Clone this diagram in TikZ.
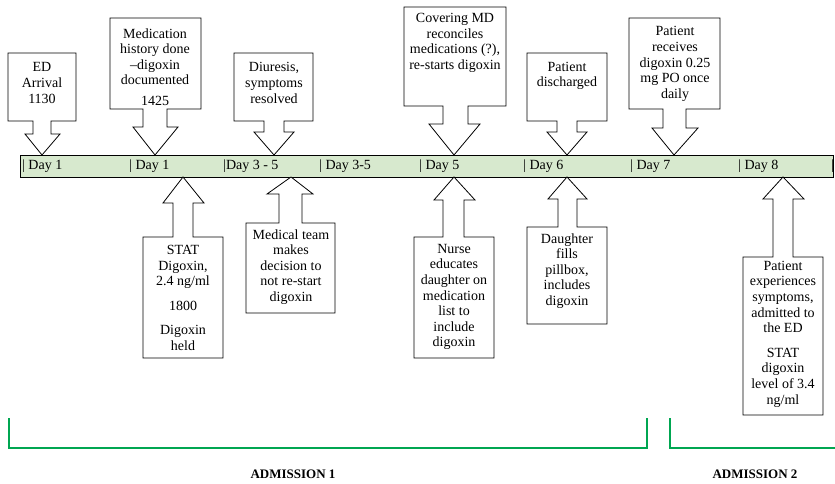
\documentclass[tikz,border=0pt]{standalone}
\usepackage{fontspec}
\setmainfont{Liberation Serif}
\definecolor{barfill}{RGB}{215,233,206}
\definecolor{brgreen}{RGB}{0,166,81}
\tikzset{
  callout/.style={draw=black, fill=white, line width=0.8pt, line join=miter},
  txt/.style={align=center, inner sep=0pt, font=\fontsize{14}{15.6}\selectfont},
  daylbl/.style={anchor=west, inner sep=0pt, font=\fontsize{14}{16}\selectfont},
  bracket/.style={draw=brgreen, line width=1.6pt},
  admlbl/.style={inner sep=0pt, font=\fontsize{13}{15}\selectfont\bfseries}
}
\begin{document}
\begin{tikzpicture}[x=1pt,y=-1pt]
\useasboundingbox (0,0) rectangle (835,484);
% timeline bar
\path[draw=black, fill=barfill, line width=0.7pt] (20,155) rectangle (833,177);
\node[daylbl] (d1) at (22,166) {| Day 1};
\node[daylbl] (d2) at (129,166) {| Day 1};
\node[daylbl] (d3) at (223,166) {|Day 3 - 5};
\node[daylbl] (d4) at (319,166) {| Day 3-5};
\node[daylbl] (d5) at (419,166) {| Day 5};
\node[daylbl] (d6) at (523,166) {| Day 6};
\node[daylbl] (d7) at (630,166) {| Day 7};
\node[daylbl] (d8) at (738,166) {| Day 8};
\node[daylbl] (d9) at (831,166) {|};
% ---- top callouts ----
\path[callout] (8,53) -- (76,53) -- (76,121) -- (51,121) -- (51,134) -- (60,134) -- (42,155) -- (25,134) -- (33,134) -- (33,121) -- (8,121) -- cycle;
\node[txt] (ed) at (42,83) {ED\\Arrival\\1130};

\path[callout] (110,18) -- (201,18) -- (201,109) -- (167,109) -- (167,127) -- (178,127) -- (155,155) -- (133,127) -- (143,127) -- (143,109) -- (110,109) -- cycle;
\node[txt] (medhist) at (155,67) {Medication\\history done\\–digoxin\\documented\\[5pt]1425};

\path[callout] (234,53) -- (313,53) -- (313,121) -- (284,121) -- (284,132) -- (294,132) -- (274,155) -- (254,132) -- (264,132) -- (264,121) -- (234,121) -- cycle;
\node[txt] (diur) at (274,83) {Diuresis,\\symptoms\\resolved};

\path[callout] (404,7) -- (506,7) -- (506,106) -- (468,106) -- (468,124) -- (480,124) -- (454,155) -- (429,124) -- (443,124) -- (443,106) -- (404,106) -- cycle;
\node[txt] (cover) at (455,43) {Covering MD\\reconciles\\medications (?),\\re-starts digoxin};

\path[callout] (527,53) -- (607,53) -- (607,121) -- (577,121) -- (577,132) -- (587,132) -- (567,155) -- (547,132) -- (557,132) -- (557,121) -- (527,121) -- cycle;
\node[txt] (disch) at (567,76) {Patient\\discharged};

\path[callout] (629,18) -- (720,18) -- (720,109) -- (686,109) -- (686,128) -- (698,128) -- (674,155) -- (652,128) -- (663,128) -- (663,109) -- (629,109) -- cycle;
\node[txt] (recv) at (675,64) {Patient\\receives\\digoxin 0.25\\mg PO once\\daily};
% ---- bottom callouts ----
\path[callout] (143,358) -- (223,358) -- (223,237) -- (193,237) -- (193,203) -- (204,203) -- (183,177) -- (163,203) -- (173,203) -- (173,237) -- (143,237) -- cycle;
\node[txt] (stat) at (183,298) {STAT\\Digoxin,\\2.4 ng/ml\\[9pt]1800\\[9pt]Digoxin\\held};

\path[callout] (246,313) -- (335,313) -- (335,223) -- (302,223) -- (302,194) -- (313,194) -- (291,177) -- (267,194) -- (279,194) -- (279,223) -- (246,223) -- cycle;
\node[txt] (medteam) at (291,267) {Medical team\\makes\\decision to\\not re-start\\digoxin};

\path[callout] (414,358) -- (494,358) -- (494,237) -- (464,237) -- (464,200) -- (475,200) -- (454,177) -- (434,200) -- (443,200) -- (443,237) -- (414,237) -- cycle;
\node[txt] (nurse) at (454,297) {Nurse\\educates\\daughter on\\medication\\list to\\include\\digoxin};

\path[callout] (527,324) -- (607,324) -- (607,227) -- (577,227) -- (577,199) -- (587,199) -- (567,177) -- (548,199) -- (558,199) -- (558,227) -- (527,227) -- cycle;
\node[txt] (daught) at (567,271) {Daughter\\fills\\pillbox,\\includes\\digoxin};

\path[callout] (743,415) -- (823,415) -- (823,257) -- (793,257) -- (793,199) -- (804,199) -- (783,177) -- (763,199) -- (773,199) -- (773,257) -- (743,257) -- cycle;
\node[txt] (exper) at (783,334) {Patient\\experiences\\symptoms,\\admitted to\\the ED\\[9pt]STAT\\digoxin\\level of 3.4\\ng/ml};
% ---- admission brackets ----
\draw[bracket] (9,418) -- (9,448) -- (647,448) -- (647,418);
\draw[bracket] (670,418) -- (670,448) -- (835,448);
\node[admlbl] (adm1) at (293,474) {ADMISSION 1};
\node[admlbl] (adm2) at (755,474) {ADMISSION 2};
\end{tikzpicture}
\end{document}
